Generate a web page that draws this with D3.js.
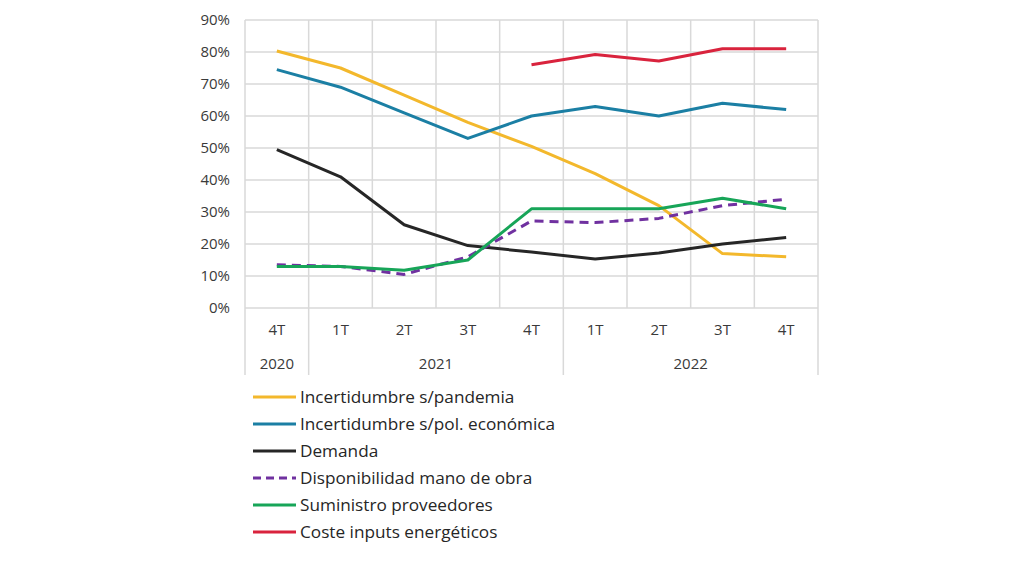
<!DOCTYPE html>
<html>
<head>
<meta charset="utf-8">
<script src="https://cdn.jsdelivr.net/npm/d3@7"></script>
<style>
  body { margin: 0; background: #fff; }
  svg { display: block; font-family: "Open Sans", "Noto Sans", sans-serif; }
</style>
</head>
<body>
<div id="chart"></div>
<script>
const quarters = ["4T", "1T", "2T", "3T", "4T", "1T", "2T", "3T", "4T"];
const years = [
  { label: "2020", from: 0, to: 1 },
  { label: "2021", from: 1, to: 5 },
  { label: "2022", from: 5, to: 9 }
];
const yTicks = [0, 10, 20, 30, 40, 50, 60, 70, 80, 90];

const pandemia    = [80.3, 75, 66.5, 58, 50.5, 42, 32, 17, 16];
const politica    = [74.5, 69, 61, 53, 60, 63, 60, 64, 62];
const demanda     = [49.5, 41, 26, 19.5, 17.5, 15.3, 17.2, 20, 22];
const manoObra    = [13.5, 13, 10.5, 16, 27.2, 26.7, 28, 32, 34];
const suministro  = [13, 13, 11.8, 15, 31, 31, 31, 34.3, 31];
const energeticos = [null, null, null, null, 76, 79.2, 77.2, 81, 81];

const series = [
  { name: "Incertidumbre s/pandemia", values: pandemia, color: "#f3b82c" },
  { name: "Incertidumbre s/pol. económica", values: politica, color: "#1b7fa4" },
  { name: "Demanda", values: demanda, color: "#262626" },
  { name: "Disponibilidad mano de obra", values: manoObra, color: "#7031a0", dash: "9,6" },
  { name: "Suministro proveedores", values: suministro, color: "#17a558" },
  { name: "Coste inputs energéticos", values: energeticos, color: "#d9233d" }
];

const margin = { left: 245, top: 20 };
const width = 573, height = 288;

const svg = d3.select("#chart").append("svg")
  .attr("width", 1024)
  .attr("height", 576);

const g = svg.append("g")
  .attr("transform", `translate(${margin.left},${margin.top})`);

const x = d3.scaleBand()
  .domain(d3.range(quarters.length))
  .range([0, width]);

const y = d3.scaleLinear()
  .domain([0, 90])
  .range([height, 0]);

const grid = "#d9d9d9";

// horizontal grid
g.append("g").selectAll("line")
  .data(yTicks)
  .enter().append("line")
  .attr("x1", 0).attr("x2", width)
  .attr("y1", d => y(d)).attr("y2", d => y(d))
  .attr("stroke", grid).attr("stroke-width", 1.5);

// vertical grid
g.append("g").selectAll("line")
  .data(d3.range(quarters.length + 1))
  .enter().append("line")
  .attr("x1", d => d * x.bandwidth()).attr("x2", d => d * x.bandwidth())
  .attr("y1", 0).attr("y2", height)
  .attr("stroke", grid).attr("stroke-width", 1.5);

// year separators below the axis
const seps = [0, ...years.map(d => d.to)];
g.append("g").selectAll("line")
  .data(seps)
  .enter().append("line")
  .attr("x1", d => d * x.bandwidth()).attr("x2", d => d * x.bandwidth())
  .attr("y1", height).attr("y2", height + 67)
  .attr("stroke", grid).attr("stroke-width", 1.5);

// y labels
g.append("g").selectAll("text")
  .data(yTicks)
  .enter().append("text")
  .attr("x", -15)
  .attr("y", d => y(d))
  .attr("dy", "0.35em")
  .attr("text-anchor", "end")
  .attr("font-size", 15)
  .attr("fill", "#3a3a3a")
  .text(d => d + "%");

// quarter labels
g.append("g").selectAll("text")
  .data(quarters)
  .enter().append("text")
  .attr("x", (d, i) => x(i) + x.bandwidth() / 2)
  .attr("y", height + 22)
  .attr("dy", "0.35em")
  .attr("text-anchor", "middle")
  .attr("font-size", 15)
  .attr("fill", "#3a3a3a")
  .text(d => d);

// year labels
g.append("g").selectAll("text")
  .data(years)
  .enter().append("text")
  .attr("x", d => (d.from + d.to) / 2 * x.bandwidth())
  .attr("y", height + 56)
  .attr("dy", "0.35em")
  .attr("text-anchor", "middle")
  .attr("font-size", 15)
  .attr("fill", "#3a3a3a")
  .text(d => d.label);

// lines
const line = d3.line()
  .defined(d => d != null)
  .x((d, i) => x(i) + x.bandwidth() / 2)
  .y(d => y(d));

g.append("g").selectAll("path")
  .data(series)
  .enter().append("path")
  .attr("d", d => line(d.values))
  .attr("fill", "none")
  .attr("stroke", d => d.color)
  .attr("stroke-width", 3)
  .attr("stroke-dasharray", d => d.dash || null)
  .attr("stroke-linejoin", "round");

// legend
const legend = svg.append("g")
  .attr("transform", "translate(253,397)");

const item = legend.selectAll("g")
  .data(series)
  .enter().append("g")
  .attr("transform", (d, i) => `translate(0,${i * 27})`);

item.append("line")
  .attr("x1", 0).attr("x2", 43)
  .attr("stroke", d => d.color)
  .attr("stroke-width", 3)
  .attr("stroke-dasharray", d => d.dash ? "8,5" : null);

item.append("text")
  .attr("x", 47)
  .attr("dy", "0.35em")
  .attr("font-size", 17.2)
  .attr("fill", "#262626")
  .text(d => d.name);
</script>
</body>
</html>
